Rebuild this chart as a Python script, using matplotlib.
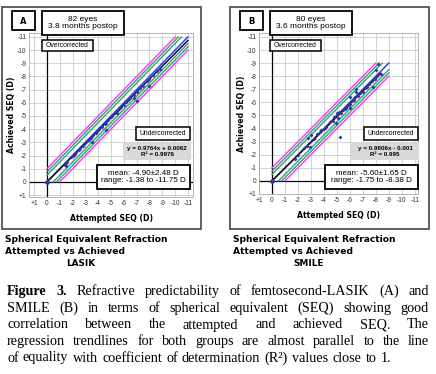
import matplotlib
matplotlib.use("Agg")
import matplotlib.pyplot as plt
from matplotlib.patches import Rectangle
from matplotlib.ticker import FuncFormatter

# ---- data ----
att_a = [-1.38, -1.5, -1.6, -1.9, -2.0, -2.1, -2.3, -2.5, -2.6, -2.8, -3.0, -3.1, -3.3,
         -3.4, -3.5, -3.6, -3.8, -3.9, -4.0, -4.1, -4.3, -4.5, -4.6, -4.8, -5.0, -5.1,
         -5.3, -5.5, -5.6, -5.8, -6.0, -6.2, -6.3, -6.5, -6.8, -7.0, -7.0, -7.3, -7.5,
         -7.8, -8.0, -8.3, -8.6, -8.8, -3.5, -4.6, -5.5, -6.8, -7.0, -8.0, -1.5, -2.2]
ach_a = [-1.3, -1.45, -1.5, -1.9, -2.0, -2.05, -2.3, -2.4, -2.6, -2.75, -2.95, -3.1, -3.2,
         -3.35, -3.45, -3.55, -3.7, -3.85, -3.95, -4.05, -4.2, -4.4, -4.5, -4.7, -4.9, -5.0,
         -5.2, -5.35, -5.5, -5.7, -5.85, -6.05, -6.2, -6.35, -6.6, -6.85, -6.9, -7.1, -7.3,
         -7.65, -7.8, -8.1, -8.45, -8.6, -3.0, -3.95, -5.2, -6.35, -6.15, -7.25, -1.2, -2.15]

att_b = [-1.75, -2.0, -2.5, -2.75, -2.7, -2.9, -3.0, -3.2, -3.5, -3.7, -3.8, -4.0, -4.2,
         -4.5, -4.7, -4.8, -5.0, -5.0, -5.1, -5.2, -5.3, -5.5, -5.6, -5.7, -5.8, -5.9,
         -6.0, -6.0, -6.2, -6.3, -6.4, -6.5, -6.6, -6.8, -7.0, -7.2, -7.3, -7.5, -7.7,
         -7.9, -8.0, -8.1, -8.2, -8.38, -5.27, -6.0, -4.9, -6.5, -7.8]
ach_b = [-1.7, -2.0, -2.5, -3.3, -2.7, -2.6, -3.5, -3.2, -3.6, -3.7, -3.9, -4.0, -4.1,
         -4.5, -4.6, -4.9, -5.0, -5.2, -4.8, -5.3, -5.2, -5.4, -5.5, -5.6, -5.7, -5.8,
         -6.4, -5.9, -6.1, -6.2, -6.4, -7.0, -6.5, -6.7, -6.8, -7.1, -7.2, -7.4, -7.6,
         -7.8, -8.5, -8.0, -8.9, -8.2, -3.33, -5.6, -4.4, -6.8, -7.2]

reg_a = (0.9764, 0.0062)
reg_b = (0.9806, -0.001)
ticks = list(range(1, -12, -1))

W, H = 436, 374
fig = plt.figure(figsize=(W / 100, H / 100), dpi=100)


def fx(x):
    return x / W


def fy(y):
    return 1 - y / H


def box(x0, y0, x1, y1, lw=1.0, fc="white", ec="black"):
    fig.patches.append(Rectangle((fx(x0), fy(y1)), (x1 - x0) / W, (y1 - y0) / H,
                                 transform=fig.transFigure, fc=fc, ec=ec, lw=lw,
                                 zorder=5))


def sign_fmt(v, pos):
    v = int(round(v))
    return "+%d" % v if v > 0 else "%d" % v


def panel(ox, rect, lims, att, ach, reg, r2, end, letter, eyes, months, mean, rng, name):
    # outer frame of the panel
    box(ox + 2, 7, ox + 201, 229, lw=1.3, fc="none", ec="#555555")

    l, t, r, b = rect
    ax = fig.add_axes([fx(l), fy(b), (r - l) / W, (b - t) / H])
    ax.set_xlim(lims[0], lims[1])
    ax.set_ylim(lims[2], lims[3])
    ax.set_xticks(ticks)
    ax.set_yticks(ticks)
    ax.xaxis.set_major_formatter(FuncFormatter(sign_fmt))
    ax.yaxis.set_major_formatter(FuncFormatter(sign_fmt))
    ax.tick_params(length=0, labelsize=4.8, pad=2, colors="#333333")
    for lab in ax.get_xticklabels() + ax.get_yticklabels():
        lab.set_family("Liberation Sans")
    ax.grid(True, color="#cccccc", lw=0.6)
    for s in ax.spines.values():
        s.set_color("#aaaaaa")
        s.set_linewidth(0.6)
    ax.axhline(0, color="black", lw=0.9, zorder=2)
    ax.axvline(0, color="black", lw=0.9, zorder=2)

    # bands: upper lines y = x - d, lower lines y = x + d
    for d, c in [(1.0, "#ff33ff"), (0.75, "#3a9e78"), (0.5, "#3a9e78")]:
        ax.plot([0, end + d], [-d, end], color=c, lw=1.0, zorder=3)
        ax.plot([-d, end], [0, end + d], color=c, lw=1.0, zorder=3)
    ax.plot([0, end], [0, end], color="#3040ff", lw=1.1, zorder=3)
    xe = min(att) if end == -9 else end
    ax.plot([0, xe], [reg[1], reg[0] * xe + reg[1]], color="#101030", lw=1.1, zorder=4)
    ax.plot([0], [0], "D", color="#2b3a9a", ms=2.2, zorder=5)
    ax.scatter(att, ach, marker="D", s=4, color="#2b3a9a", zorder=5, lw=0)

    ax.set_xlabel("Attempted SEQ (D)", fontsize=5.6, weight="bold", labelpad=5)
    ax.set_ylabel("Achieved SEQ (D)", fontsize=5.6, weight="bold", labelpad=0.5)

    # annotation boxes
    box(ox + 12, 11, ox + 35, 30, lw=1.3)
    fig.text(fx(ox + 23.5), fy(21), letter, fontsize=6, weight="bold",
             ha="center", va="center", zorder=6)
    box(ox + 42, 11, ox + 124, 35, lw=1.3)
    fig.text(fx(ox + 83), fy(23), eyes + "\n" + months, fontsize=6,
             family="Liberation Sans", ha="center", va="center",
             linespacing=1.15, zorder=6)
    box(ox + 42, 40, ox + 93, 51, lw=1.1)
    fig.text(fx(ox + 67.5), fy(45.5), "Overcorrected", fontsize=4.9,
             family="Liberation Sans", ha="center", va="center", zorder=6)
    box(ox + 136, 127, ox + 190, 140, lw=1.1)
    fig.text(fx(ox + 163), fy(133.5), "Undercorrected", fontsize=4.9,
             family="Liberation Sans", ha="center", va="center", zorder=6)
    box(ox + 123, 143, ox + 191, 160, lw=0, fc="#d9d9d9", ec="none")
    sgn = "+" if reg[1] >= 0 else "-"
    eq = "y = %.4fx %s %g\nR² = %s" % (reg[0], sgn, abs(reg[1]), r2)
    fig.text(fx(ox + 157), fy(151.5), eq, fontsize=4.5, weight="bold",
             family="Liberation Sans", ha="center", va="center",
             linespacing=1.15, zorder=6)
    box(ox + 97, 165, ox + 190, 189, lw=1.3)
    fig.text(fx(ox + 143.5), fy(177), mean + "\n" + rng, fontsize=5.8,
             family="Liberation Sans", ha="center", va="center",
             linespacing=1.15, zorder=6)

    # titles under the panel
    fig.text(fx(ox + 5), fy(240), "Spherical Equivalent Refraction", fontsize=6.6,
             weight="bold", va="center")
    fig.text(fx(ox + 5), fy(252), "Attempted vs Achieved", fontsize=6.6,
             weight="bold", va="center")
    fig.text(fx(ox + 81), fy(264), name, fontsize=6.4, weight="bold",
             ha="center", va="center")


panel(0, (29, 33, 193, 197), (1.4, -11.4, 1.15, -11.3), att_a, ach_a, reg_a, "0.9976",
      -11, "A", "82 eyes", "3.8 months postop", "mean: -4.90±2.48 D",
      "range: -1.38 to -11.75 D", "LASIK")
panel(228, (259, 33, 418, 194), (1.0, -11.25, 0.95, -11.3), att_b, ach_b, reg_b, "0.995",
      -9, "B", "80 eyes", "3.6 months postop", "mean: -5.60±1.65 D",
      "range: -1.75 to -8.38 D", "SMILE")

# ---- caption, justified ----
caption = [
    "Figure 3. Refractive predictability of femtosecond-LASIK (A) and",
    "SMILE (B) in terms of spherical equivalent (SEQ) showing good",
    "correlation between the attempted and achieved SEQ. The",
    "regression trendlines for both groups are almost parallel to the line",
    "of equality with coefficient of determination (R²) values close to 1.",
]
baselines = [295, 312, 328.5, 345, 361.5]
cap_size = 10.2
renderer = fig.canvas.get_renderer()
x_left, x_right = 7, 429
space = 0.3 * cap_size * 100 / 72
for i, (line, yb) in enumerate(zip(caption, baselines)):
    words = line.split(" ")
    texts = []
    for j, w in enumerate(words):
        bold = i == 0 and j < 2
        texts.append(fig.text(0, fy(yb), w, fontsize=cap_size, family="Liberation Serif",
                              weight="bold" if bold else "normal", va="baseline"))
    widths = [t.get_window_extent(renderer).width for t in texts]
    if i == len(caption) - 1:
        gap = space
    else:
        gap = (x_right - x_left - sum(widths)) / (len(words) - 1)
    x = x_left
    for t, w in zip(texts, widths):
        t.set_x(fx(x))
        x += w + gap

fig.savefig("out.png", dpi=100)
